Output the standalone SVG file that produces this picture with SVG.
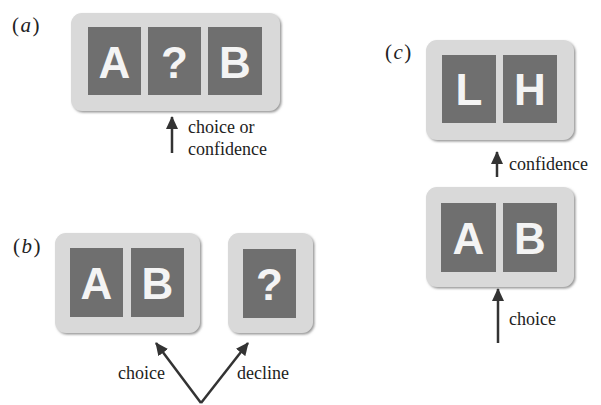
<svg xmlns="http://www.w3.org/2000/svg" width="601" height="405" viewBox="0 0 601 405">
<style>
.panel{fill:#d9d9d9;filter:url(#sh)}
.cell{fill:#6f6f6f}
.glyph{font-family:'Liberation Sans',Arial,sans-serif;font-weight:bold;font-size:44px;fill:#f4f4f4;text-anchor:middle}
.lbl{font-family:'Liberation Serif','DejaVu Serif',serif;font-size:18px;fill:#222}
.tag{font-family:'Liberation Serif','DejaVu Serif',serif;font-size:21px;letter-spacing:1.5px;fill:#222}
.arr{stroke:#333;stroke-width:2.5;fill:none;marker-end:url(#ah)}
</style>
<defs>
<filter id="sh" x="-10%" y="-10%" width="120%" height="125%">
<feDropShadow dx="1.5" dy="1.5" stdDeviation="1" flood-color="#8a8a8a" flood-opacity="0.9"/>
</filter>
<marker id="ah" markerUnits="userSpaceOnUse" markerWidth="14" markerHeight="12" refX="12" refY="6" orient="auto">
<path d="M0,0 L13,6 L0,12 z" fill="#333"/>
</marker>
</defs>
<rect width="601" height="405" fill="#fff"/>

<text class="tag" x="12" y="32">(<tspan font-style="italic">a</tspan>)</text>
<text class="tag" x="13" y="253">(<tspan font-style="italic">b</tspan>)</text>
<text class="tag" x="385" y="59">(<tspan font-style="italic">c</tspan>)</text>

<g id="a-panel">
<rect class="panel" x="71" y="13" width="209" height="98" rx="11"/>
<rect class="cell" x="88" y="27" width="53" height="68"/>
<rect class="cell" x="148" y="27" width="53" height="68"/>
<rect class="cell" x="208" y="27" width="54" height="68"/>
<text class="glyph" x="114.5" y="78">A</text>
<text class="glyph" x="174.5" y="78">?</text>
<text class="glyph" x="235" y="78">B</text>
</g>

<g id="b-choice">
<rect class="panel" x="55" y="233" width="145" height="100" rx="11"/>
<rect class="cell" x="70" y="248" width="53" height="69"/>
<rect class="cell" x="131" y="248" width="53" height="69"/>
<text class="glyph" x="96.5" y="299">A</text>
<text class="glyph" x="157.5" y="299">B</text>
</g>

<g id="b-decline">
<rect class="panel" x="228" y="233" width="85" height="100" rx="11"/>
<rect class="cell" x="243" y="249" width="53" height="69"/>
<text class="glyph" x="269.5" y="300">?</text>
</g>

<g id="c-confidence">
<rect class="panel" x="426" y="40" width="148" height="100" rx="11"/>
<rect class="cell" x="442" y="55" width="54" height="68"/>
<rect class="cell" x="503" y="55" width="54" height="68"/>
<text class="glyph" x="469" y="105">L</text>
<text class="glyph" x="530" y="105">H</text>
</g>

<g id="c-choice">
<rect class="panel" x="426" y="187" width="148" height="100" rx="11"/>
<rect class="cell" x="441" y="203" width="55" height="69"/>
<rect class="cell" x="503" y="203" width="54" height="69"/>
<text class="glyph" x="468.5" y="254">A</text>
<text class="glyph" x="530" y="254">B</text>
</g>

<g id="connectors">
<line class="arr" x1="172" y1="153" x2="172" y2="117"/>
<line class="arr" x1="201" y1="403" x2="156" y2="343"/>
<line class="arr" x1="201" y1="403" x2="248" y2="343"/>
<line class="arr" x1="497" y1="177" x2="497" y2="152"/>
<line class="arr" x1="498" y1="343" x2="498" y2="289"/>
</g>

<g id="labels">
<text class="lbl" x="188" y="133">choice or</text>
<text class="lbl" x="188" y="155">confidence</text>
<text class="lbl" x="118" y="379">choice</text>
<text class="lbl" x="237" y="379">decline</text>
<text class="lbl" x="509" y="170">confidence</text>
<text class="lbl" x="509" y="325">choice</text>
</g>
</svg>
